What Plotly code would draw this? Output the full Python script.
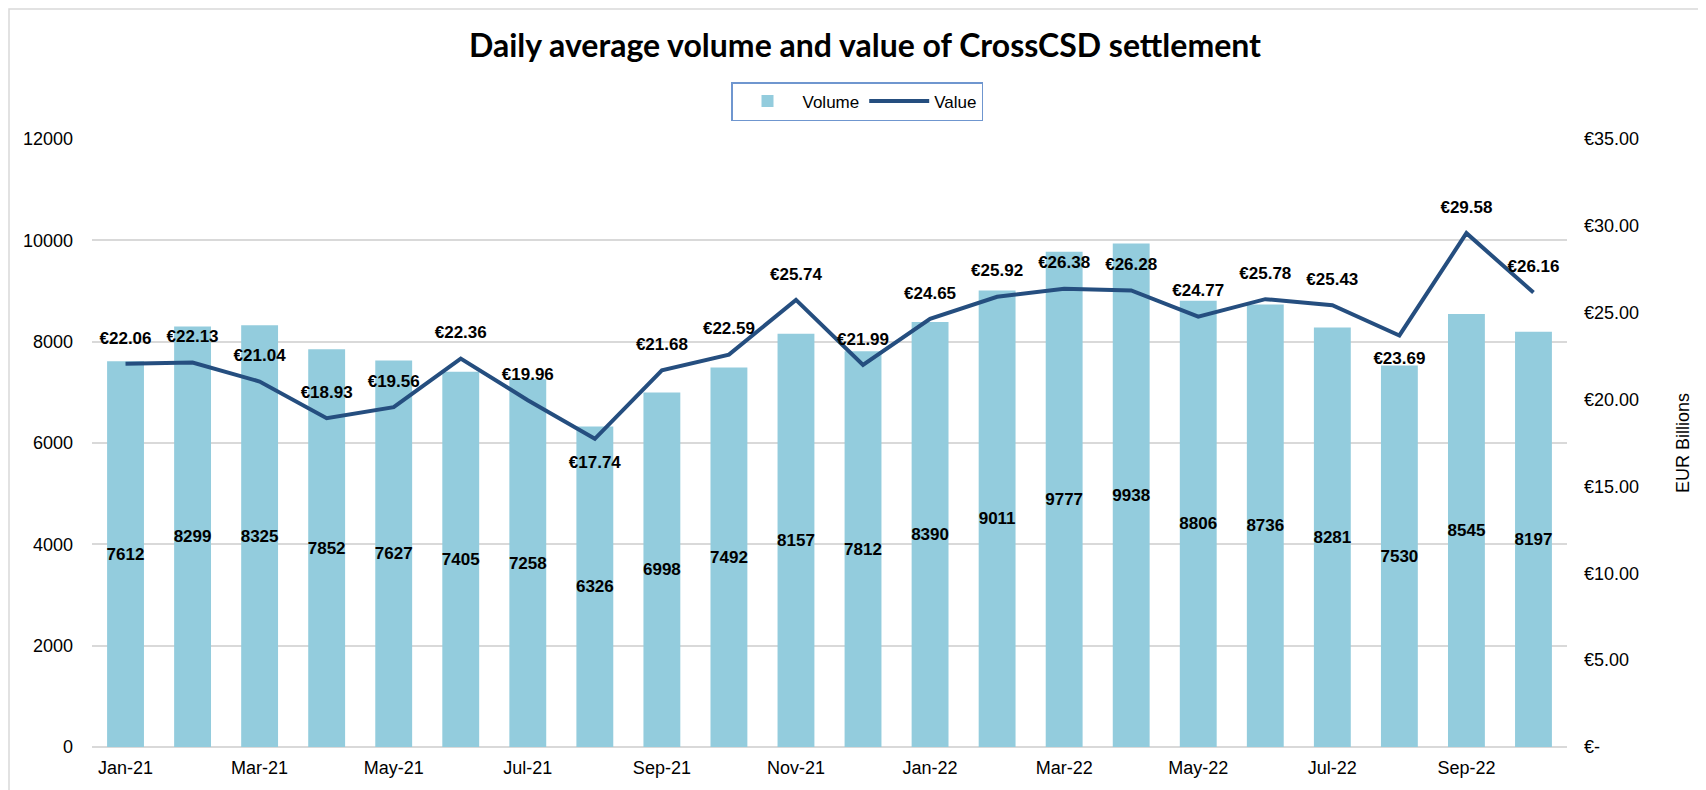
import plotly.graph_objects as go

# monthly data, Jan-21 .. Oct-22
months = ["Jan-21", "Feb-21", "Mar-21", "Apr-21", "May-21", "Jun-21", "Jul-21", "Aug-21",
          "Sep-21", "Oct-21", "Nov-21", "Dec-21", "Jan-22", "Feb-22", "Mar-22", "Apr-22",
          "May-22", "Jun-22", "Jul-22", "Aug-22", "Sep-22", "Oct-22"]
volume = [7612, 8299, 8325, 7852, 7627, 7405, 7258, 6326, 6998, 7492, 8157,
          7812, 8390, 9011, 9777, 9938, 8806, 8736, 8281, 7530, 8545, 8197]
value_bn = [22.06, 22.13, 21.04, 18.93, 19.56, 22.36, 19.96, 17.74, 21.68, 22.59, 25.74,
            21.99, 24.65, 25.92, 26.38, 26.28, 24.77, 25.78, 25.43, 23.69, 29.58, 26.16]

left_ticks = [0, 2000, 4000, 6000, 8000, 10000, 12000]
right_ticks = [0, 5, 10, 15, 20, 25, 30, 35]
right_labels = ["€-", "€5.00", "€10.00", "€15.00", "€20.00", "€25.00", "€30.00", "€35.00"]
x_ticks = months[::2]

BAR = "#93CCDD"
LINE = "#254E7F"
GRID = "#D9D9D9"
FONT = "Liberation Sans, Arial, sans-serif"

# labels for the two lowest points sit under the line
label_pos = ["top center"] * len(months)
label_pos[months.index("Aug-21")] = "bottom center"
label_pos[months.index("Aug-22")] = "bottom center"

# plot box in figure pixels (page body adds 8px offset)
L, R, T, B = 84, 147, 131, 51
PW, PH = 1706 - L - R, 790 - T - B

fig = go.Figure()

fig.add_trace(go.Bar(
    x=months, y=volume, name="Volume",
    marker=dict(color=BAR, line=dict(width=0)),
    text=[str(v) for v in volume],
    textposition="inside", insidetextanchor="middle",
    textfont=dict(family=FONT, size=17, color="black", weight="bold"),
    textangle=0, constraintext="none",
))

fig.add_trace(go.Scatter(
    x=months, y=value_bn, name="Value", yaxis="y2",
    mode="lines+markers+text",
    line=dict(color=LINE, width=4),
    marker=dict(size=24, color="rgba(0,0,0,0)"),
    text=["€%.2f" % v for v in value_bn],
    textposition=label_pos,
    textfont=dict(family=FONT, size=17, color="black", weight="bold"),
    cliponaxis=False,
))

fig.update_layout(
    width=1706, height=790,
    margin=dict(l=L, r=R, t=T, b=B, autoexpand=False),
    paper_bgcolor="white", plot_bgcolor="white",
    font=dict(family=FONT, size=18, color="black"),
    uniformtext=dict(minsize=17, mode="show"),
    title=dict(text="<b>Daily average volume and value of CrossCSD settlement</b>",
               font=dict(family="Lato, Open Sans, sans-serif", size=32, color="black"),
               x=857 / 1706, xanchor="center", xref="container",
               y=1 - 38 / 790, yanchor="middle", yref="container"),
    bargap=0.45,
    showlegend=True,
    legend=dict(orientation="h", x=(723 - L) / PW, xanchor="left",
                y=(T + PH - 74) / PH, yanchor="top",
                bordercolor="#6F96CF", borderwidth=1.5,
                font=dict(family=FONT, size=17), itemwidth=60,
                traceorder="normal"),
    xaxis=dict(type="category", range=[-0.5, len(months) - 0.5],
               tickmode="array", tickvals=x_ticks, ticktext=x_ticks,
               showgrid=False, showline=False, ticks="", ticklabelstandoff=8,
               tickfont=dict(size=18), automargin=False),
    yaxis=dict(range=[0, 12000], tickvals=left_ticks, tickformat="d",
               showgrid=True, gridcolor=GRID, gridwidth=1.5,
               zeroline=True, zerolinecolor=GRID, zerolinewidth=1.5,
               showline=False, ticks="", ticklabelstandoff=18,
               tickfont=dict(size=18), automargin=False),
    yaxis2=dict(range=[0, 35], overlaying="y", side="right",
                tickvals=right_ticks, ticktext=right_labels,
                showgrid=False, zeroline=False, showline=False, ticks="",
                ticklabelstandoff=16, tickfont=dict(size=18), automargin=False,
                title=dict(text="EUR Billions", font=dict(size=18), standoff=38)),
)

# light outer chart border
fig.add_shape(type="rect", xref="paper", yref="paper",
              x0=(1 - L) / PW, x1=(1692 - L) / PW,
              y0=(T + PH - 800) / PH, y1=(T + PH - 1) / PH,
              line=dict(color=GRID, width=1.5), fillcolor="rgba(0,0,0,0)", layer="below")

fig.write_html("out.html")
